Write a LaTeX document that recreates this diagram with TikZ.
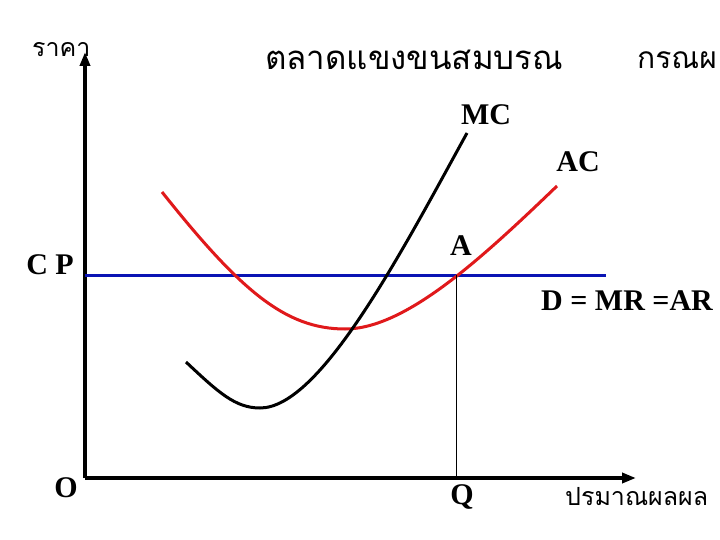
\documentclass[tikz,border=0pt]{standalone}
\usepackage{fontspec}
\setmainfont{Liberation Serif}
\newfontfamily\thaifont[Script=Thai]{Loma}
\usetikzlibrary{arrows.meta}
\definecolor{acred}{HTML}{E0191B}
\definecolor{dblue}{HTML}{0A14B4}

\begin{document}
\begin{tikzpicture}[x=1pt, y=-1pt,
    >={Triangle[length=14pt, width=10pt]}, % gefuellte Pfeilspitzen der Achsen
    axis/.style={line width=4pt},
    curve/.style={line width=3pt},
    lbl/.style={font=\fontsize{30}{30}\selectfont\bfseries, inner sep=0pt},
    thai/.style={font=\thaifont\fontsize{#1}{#1}\selectfont, inner sep=0pt}
]
\clip (0,0) rectangle (720,540);

% 1. Achsen
\coordinate (o) at (85,478);
\coordinate (ytop) at (85,52);
\coordinate (xend) at (636,478);
\draw[axis, ->] (o) -- (ytop);
\draw[axis, ->] (o) -- (xend);

% 2. Preisgerade D = MR = AR
\coordinate (p) at (85,275);
\coordinate (dend) at (606,275);
\draw[dblue, line width=3pt] (p) -- (dend);

% 3. Kurven AC und MC
\draw[curve, acred] (162,192) .. controls (240,290) and (285,329) .. (345,329)
    .. controls (405,329) and (480,260) .. (557,186);
\draw[curve, black] (186,362) .. controls (218,392) and (235,408) .. (260,408)
    .. controls (320,408) and (400,255) .. (467,133);

% 4. Gleichgewicht A und Menge Q
\coordinate (a) at (456,275);
\coordinate (q) at (456,478);
\draw[line width=0.8pt] (a) -- (q);

% 5. Beschriftungen
\node[lbl] (mc) at (486,115) {MC};
\node[lbl] (ac) at (578,162) {AC};
\node[lbl] (alab) at (461,246) {A};
\node[lbl] (cp) at (50,265) {C P};
\node[lbl] (dmr) at (627,301) {D = MR =AR};
\node[lbl] (olab) at (66,488) {O};
\node[lbl] (qlab) at (462,497) {Q};
\node[thai=25, anchor=west] (price) at (32,50) {ราคา};
\node[thai=33, anchor=west] (title) at (265,60) {ตลาดแขงขนสมบรณ};
\node[thai=30, anchor=west] (case) at (637,60) {กรณผ};
\node[thai=25, anchor=west] (qty) at (565,497) {ปรมาณผลผล};

\end{tikzpicture}
\end{document}
